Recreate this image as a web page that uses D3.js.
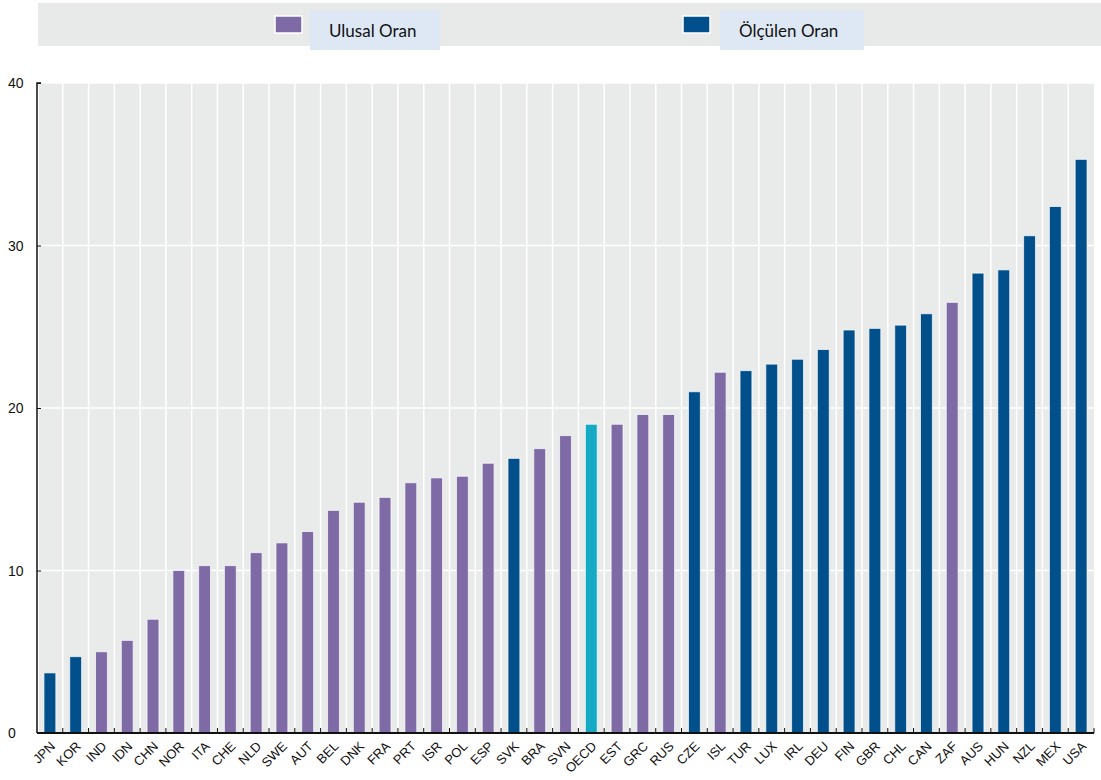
<!DOCTYPE html>
<html><head><meta charset="utf-8">
<script src="https://cdn.jsdelivr.net/npm/d3@7"></script>
<style>body{margin:0;background:#fff}svg{display:block}</style>
</head><body>
<svg id="c" width="1101" height="780"></svg>
<script>
const countries = ["JPN","KOR","IND","IDN","CHN","NOR","ITA","CHE","NLD","SWE","AUT","BEL","DNK","FRA","PRT","ISR","POL","ESP","SVK","BRA","SVN","OECD","EST","GRC","RUS","CZE","ISL","TUR","LUX","IRL","DEU","FIN","GBR","CHL","CAN","ZAF","AUS","HUN","NZL","MEX","USA"];
const values = [3.7,4.7,5.0,5.7,7.0,10.0,10.3,10.3,11.1,11.7,12.4,13.7,14.2,14.5,15.4,15.7,15.8,16.6,16.9,17.5,18.3,19.0,19.0,19.6,19.6,21.0,22.2,22.3,22.7,23.0,23.6,24.8,24.9,25.1,25.8,26.5,28.3,28.5,30.6,32.4,35.3];
const types = ["m","m","n","n","n","n","n","n","n","n","n","n","n","n","n","n","n","n","m","n","n","o","n","n","n","m","n","m","m","m","m","m","m","m","m","n","m","m","m","m","m"];
const seriesNames = ["Ulusal Oran","Ölçülen Oran"];
const yTicks = [0,10,20,30,40];

(function(){
const colors = {n:"#7e6ba5", m:"#01508b", o:"#15a9c4"};
const svg = d3.select("#c");
const pL = 37, pR = 1094, pT = 83, pB = 733;

const x = d3.scaleBand().domain(countries).range([pL, pR]).paddingInner(0.54).paddingOuter(0.27);
const xb = d3.scaleBand().domain(countries).range([pL, pR]);
const y = d3.scaleLinear().domain([0,40]).range([pB, pT]);

// legend band
svg.append("rect").attr("x",38).attr("y",3).attr("width",1063).attr("height",43).attr("fill","#e8e9e9");
const leg = [{name:seriesNames[0], c:colors.n, sx:275, bx:310, bw:130},{name:seriesNames[1], c:colors.m, sx:683, bx:720, bw:144}];
leg.forEach(l=>{
  svg.append("rect").attr("x",l.sx).attr("y",16).attr("width",27).attr("height",17).attr("fill",l.c).attr("stroke","#fff").attr("stroke-width",1.5);
  svg.append("rect").attr("x",l.bx).attr("y",10).attr("width",l.bw).attr("height",40).attr("fill","#dde8f4");
  svg.append("text").attr("x",l.bx+19).attr("y",37).attr("font-family","Lato, Noto Sans, sans-serif").attr("font-size",17).attr("fill","#111").text(l.name);
});

// plot background
svg.append("rect").attr("x",pL+2).attr("y",pT).attr("width",pR-pL-2).attr("height",pB-pT).attr("fill","#e9eaea");

// horizontal gridlines
svg.append("g").selectAll("line").data(yTicks.filter(d=>d>0)).join("line")
  .attr("x1",pL).attr("x2",pR).attr("y1",d=>y(d)).attr("y2",d=>y(d)).attr("stroke","#fff").attr("stroke-width",1.5);
// vertical gridlines at band boundaries
svg.append("g").selectAll("line").data(countries.slice(1)).join("line")
  .attr("x1",d=>xb(d)).attr("x2",d=>xb(d)).attr("y1",pT).attr("y2",pB).attr("stroke","#fff").attr("stroke-width",1.5);

// bars
svg.append("g").selectAll("rect").data(countries).join("rect")
  .attr("x",d=>x(d)).attr("width",x.bandwidth())
  .attr("y",(d,i)=>y(values[i])).attr("height",(d,i)=>pB-y(values[i]))
  .attr("fill",(d,i)=>colors[types[i]]).attr("stroke","#fff").attr("stroke-opacity",0.7).attr("stroke-width",1);

// y axis
const ya = svg.append("g").attr("transform",`translate(${pL},0)`).call(d3.axisRight(y).tickValues(yTicks).tickSize(4).tickFormat(""));
ya.select(".domain").attr("stroke","#111").attr("stroke-width",1.5).attr("d",`M4,${pT}H0V${pB}`);
ya.selectAll(".tick line").attr("stroke","#111");
svg.append("g").selectAll("text").data(yTicks).join("text")
  .attr("x",8).attr("y",d=>y(d)+5).attr("text-anchor","start")
  .attr("font-family","Liberation Sans Narrow, Liberation Sans, sans-serif").attr("font-size",14).attr("fill","#111")
  .text(d=>d);

// x axis
svg.append("line").attr("x1",pL).attr("x2",pR).attr("y1",pB).attr("y2",pB).attr("stroke","#111").attr("stroke-width",2);
svg.append("g").selectAll("line").data(countries.slice(1).concat(["__end"])).join("line")
  .attr("x1",d=>d==="__end"?pR:xb(d)).attr("x2",d=>d==="__end"?pR:xb(d))
  .attr("y1",pB).attr("y2",pB-5).attr("stroke","#111").attr("stroke-width",1);
svg.append("g").selectAll("text").data(countries).join("text")
  .attr("x",0).attr("y",0).attr("text-anchor","end")
  .attr("transform",d=>`translate(${xb(d)+xb.bandwidth()/2+6},${pB+14}) rotate(-45)`)
  .style("transform",d=>`translate(${xb(d)+xb.bandwidth()/2+6}px,${pB+14}px) rotate(-45deg)`,"important")
  .style("transform-origin","0px 0px","important")
  .style("transform-box","view-box","important")
  .attr("font-family","Liberation Sans Narrow, Liberation Sans, sans-serif").attr("font-size",13).attr("fill","#111")
  .text(d=>d);
})();
</script>
</body></html>
